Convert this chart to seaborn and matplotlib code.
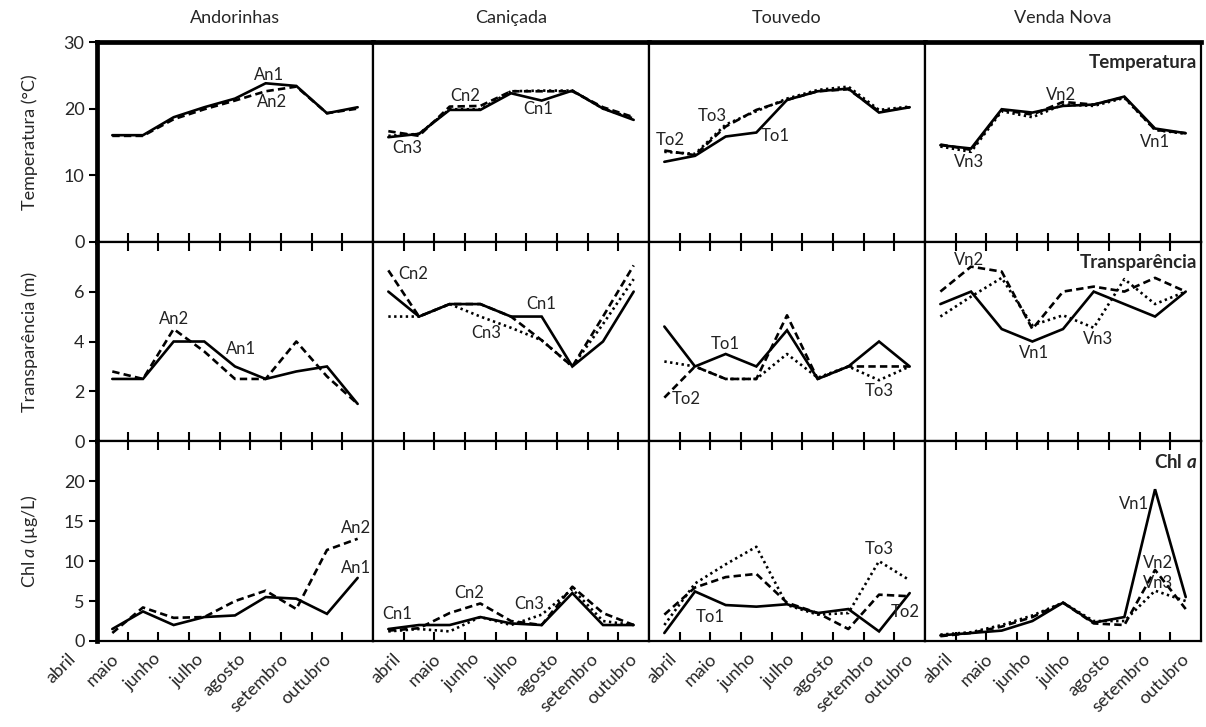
import numpy as np
import pandas as pd
import matplotlib
matplotlib.use("Agg")
import matplotlib.pyplot as plt
import seaborn as sns

sns.set_theme(style="white")
plt.rcParams["font.family"] = ["Lato", "DejaVu Sans"]
plt.rcParams["mathtext.fontset"] = "custom"
plt.rcParams["mathtext.rm"] = "Lato"
plt.rcParams["mathtext.it"] = "Lato:italic"
plt.rcParams["mathtext.bf"] = "Lato:bold"
plt.rcParams["mathtext.bfit"] = "Lato:bold:italic"

# ---- data: 9 sampling campaigns per reservoir, April to October ----
months = ["abril", "maio", "junho", "julho", "agosto", "setembro", "outubro"]
reservoirs = ["Andorinhas", "Caniçada", "Touvedo", "Venda Nova"]
n_samples = 9

# Temperature (°C)
temp_An1 = [16.0, 16.0, 18.7, 20.2, 21.5, 23.8, 23.4, 19.3, 20.2]
temp_An2 = [15.9, 15.9, 18.4, 19.9, 21.2, 22.6, 23.3, 19.3, 20.0]
temp_Cn1 = [15.7, 16.2, 19.8, 19.8, 22.3, 21.2, 22.7, 20.0, 18.3]
temp_Cn2 = [16.6, 15.9, 20.3, 20.4, 22.6, 22.6, 22.6, 20.2, 18.7]
temp_Cn3 = [15.9, 16.2, 19.9, 19.9, 22.6, 22.7, 22.7, 20.0, 18.5]
temp_To1 = [12.0, 12.9, 15.8, 16.4, 21.3, 22.6, 23.0, 19.4, 20.2]
temp_To2 = [13.7, 13.0, 17.3, 19.8, 21.3, 22.6, 22.9, 19.6, 20.2]
temp_To3 = [13.5, 13.2, 17.6, 19.6, 21.5, 22.8, 23.3, 19.8, 20.3]
temp_Vn1 = [14.5, 14.0, 19.9, 19.4, 20.4, 20.6, 21.8, 17.0, 16.3]
temp_Vn2 = [14.6, 13.8, 19.8, 19.1, 21.0, 20.6, 21.7, 16.8, 16.3]
temp_Vn3 = [14.3, 13.5, 19.6, 18.7, 20.6, 20.4, 21.6, 16.8, 16.2]

# Transparency (m)
transp_An1 = [2.5, 2.5, 4.0, 4.0, 3.0, 2.5, 2.8, 3.0, 1.5]
transp_An2 = [2.8, 2.5, 4.5, 3.6, 2.5, 2.5, 4.0, 2.6, 1.5]
transp_Cn1 = [6.0, 5.0, 5.5, 5.5, 5.0, 5.0, 3.0, 4.0, 6.0]
transp_Cn2 = [6.85, 5.0, 5.5, 5.5, 5.0, 4.05, 3.0, 5.0, 7.05]
transp_Cn3 = [5.0, 5.0, 5.5, 5.0, 4.55, 4.05, 3.0, 4.7, 6.5]
transp_To1 = [4.6, 3.0, 3.5, 3.0, 4.45, 2.5, 3.0, 4.0, 3.0]
transp_To2 = [1.75, 3.0, 2.5, 2.5, 5.05, 2.5, 3.0, 3.0, 3.0]
transp_To3 = [3.2, 3.0, 2.5, 2.5, 3.5, 2.55, 3.0, 2.45, 3.0]
transp_Vn1 = [5.5, 6.0, 4.5, 4.0, 4.5, 6.0, 5.5, 5.0, 6.0]
transp_Vn2 = [6.0, 7.0, 6.8, 4.5, 6.0, 6.2, 6.0, 6.55, 6.0]
transp_Vn3 = [5.0, 5.8, 6.55, 4.65, 5.05, 4.55, 6.5, 5.5, 6.0]

# Chlorophyll a (µg/L)
chl_An1 = [1.5, 3.7, 2.0, 3.0, 3.2, 5.5, 5.3, 3.4, 7.9]
chl_An2 = [1.0, 4.2, 2.9, 3.0, 5.0, 6.3, 4.0, 11.4, 12.8]
chl_Cn1 = [1.5, 2.0, 2.0, 3.0, 2.2, 2.0, 6.0, 2.0, 2.0]
chl_Cn2 = [1.3, 1.6, 3.5, 4.7, 2.5, 2.0, 6.8, 3.5, 2.0]
chl_Cn3 = [1.2, 1.5, 1.2, 3.0, 2.0, 3.3, 6.5, 2.5, 2.0]
chl_To1 = [1.0, 6.2, 4.5, 4.3, 4.6, 3.5, 4.0, 1.2, 6.0]
chl_To2 = [3.3, 6.7, 8.0, 8.4, 4.8, 3.5, 1.5, 5.8, 5.6]
chl_To3 = [2.0, 7.2, 9.6, 11.8, 4.5, 3.3, 3.5, 10.0, 7.6]
chl_Vn1 = [0.7, 1.0, 1.3, 2.5, 4.8, 2.3, 3.0, 19.0, 5.5]
chl_Vn2 = [0.6, 1.0, 1.8, 3.0, 4.8, 2.2, 2.0, 8.9, 4.0]
chl_Vn3 = [0.8, 1.1, 2.0, 3.2, 4.8, 2.5, 2.5, 6.3, 5.0]

variables = [
    dict(name="Temperatura", ylabel="Temperatura (°C)", ylim=(0, 30), yticks=[0, 10, 20, 30],
         series=[[("An1", temp_An1), ("An2", temp_An2)],
                 [("Cn1", temp_Cn1), ("Cn2", temp_Cn2), ("Cn3", temp_Cn3)],
                 [("To1", temp_To1), ("To2", temp_To2), ("To3", temp_To3)],
                 [("Vn1", temp_Vn1), ("Vn2", temp_Vn2), ("Vn3", temp_Vn3)]]),
    dict(name="Transparência", ylabel="Transparência (m)", ylim=(0, 8), yticks=[0, 2, 4, 6],
         series=[[("An1", transp_An1), ("An2", transp_An2)],
                 [("Cn1", transp_Cn1), ("Cn2", transp_Cn2), ("Cn3", transp_Cn3)],
                 [("To1", transp_To1), ("To2", transp_To2), ("To3", transp_To3)],
                 [("Vn1", transp_Vn1), ("Vn2", transp_Vn2), ("Vn3", transp_Vn3)]]),
    dict(name=r"Chl $\mathbfit{a}$", ylabel=r"Chl $\mathit{a}$ (µg/L)", ylim=(0, 25),
         yticks=[0, 5, 10, 15, 20],
         series=[[("An1", chl_An1), ("An2", chl_An2)],
                 [("Cn1", chl_Cn1), ("Cn2", chl_Cn2), ("Cn3", chl_Cn3)],
                 [("To1", chl_To1), ("To2", chl_To2), ("To3", chl_To3)],
                 [("Vn1", chl_Vn1), ("Vn2", chl_Vn2), ("Vn3", chl_Vn3)]]),
]

# site labels written next to the lines: (sample position, value)
site_labels = [
    [{"An1": (6.1, 25.0), "An2": (6.2, 21.0)},
     {"Cn1": (5.9, 20.0), "Cn2": (3.5, 21.9), "Cn3": (1.6, 14.1)},
     {"To1": (4.6, 15.9), "To2": (1.2, 15.3), "To3": (2.55, 18.9)},
     {"Vn1": (8.0, 15.0), "Vn2": (4.95, 22.0), "Vn3": (1.95, 11.9)}],
    [{"An1": (5.2, 3.7), "An2": (3.0, 4.9)},
     {"Cn1": (6.0, 5.5), "Cn2": (1.8, 6.7), "Cn3": (4.2, 4.35)},
     {"To1": (3.0, 3.9), "To2": (1.7, 1.7), "To3": (8.0, 2.0)},
     {"Vn1": (4.05, 3.55), "Vn2": (1.95, 7.25), "Vn3": (6.15, 4.1)}],
    [{"An1": (8.95, 9.1), "An2": (8.95, 14.1)},
     {"Cn1": (1.3, 3.4), "Cn2": (3.65, 6.0), "Cn3": (5.6, 4.6)},
     {"To1": (2.5, 3.0), "To2": (8.85, 3.6), "To3": (8.0, 11.5)},
     {"Vn1": (7.3, 17.1), "Vn2": (8.1, 9.8), "Vn3": (8.1, 7.3)}],
]

line_styles = {
    "1": dict(linestyle="-"),
    "2": dict(linestyle=(0, (2.8, 1.6))),
    "3": dict(linestyle=(0, (0.9, 1.3))),
}

fig = plt.figure(figsize=(12.06, 7.27), dpi=100)
gs = fig.add_gridspec(3, 4, left=0.0804, right=0.9959, top=0.9422, bottom=0.1183,
                      wspace=0, hspace=0)

x = np.arange(1, n_samples + 1)
thin, thick = 1.6, 3.4

# month label anchors along each bottom axis (the first panel's run sits further left)
month_anchor = [np.linspace(-0.45, 7.87, len(months))] + \
               [0.5 + n_samples * (np.arange(len(months)) + 0.5) / len(months)] * 3

for r, var in enumerate(variables):
    for c, res in enumerate(reservoirs):
        ax = fig.add_subplot(gs[r, c])
        for code, vals in var["series"][c]:
            df = pd.DataFrame({"amostra": x, "valor": vals})
            sns.lineplot(data=df, x="amostra", y="valor", ax=ax, color="black",
                         lw=1.9, solid_joinstyle="miter", dash_capstyle="butt",
                         **line_styles[code[-1]])
            lx, ly = site_labels[r][c][code]
            ax.text(lx, ly, code, fontsize=12, color="#222222",
                    ha="center", va="center")

        ax.set_xlim(0.5, n_samples + 0.5)
        ax.set_ylim(*var["ylim"])
        ax.set_xlabel("")
        ax.set_ylabel("")
        ax.set_facecolor("white")

        # category boundary ticks along the panel edges
        ax.set_xticks(np.arange(1.5, n_samples, 1.0))
        ax.tick_params(axis="x", which="major", direction="in", length=6.5, width=1.5,
                       bottom=True, top=(r > 0), labelbottom=False, color="black")

        if r == 2:
            for mx, m in zip(month_anchor[c], months):
                ax.annotate(m, xy=(mx, 0), xycoords=("data", "axes fraction"),
                            xytext=(0, -7), textcoords="offset points",
                            rotation=45, ha="right", va="top",
                            rotation_mode="anchor", fontsize=13, annotation_clip=False)

        ax.set_yticks(var["yticks"])
        if c == 0:
            ax.tick_params(axis="y", direction="out", length=6, width=1.5, left=True,
                           labelsize=13, pad=3, color="black")
        else:
            ax.tick_params(axis="y", left=False, labelleft=False)

        for side, sp in ax.spines.items():
            sp.set_visible(True)
            sp.set_color("black")
            sp.set_linewidth(thin)
        if r == 0:
            ax.spines["top"].set_linewidth(thick)
        if c == 0:
            ax.spines["left"].set_linewidth(thick)

        if c == 3:
            ax.text(0.985, 0.895, var["name"], transform=ax.transAxes, ha="right",
                    va="center", fontsize=13.5, fontweight="bold")
        if r == 0:
            ax.text(0.5, 1.0 + 24 / 200, res, transform=ax.transAxes, ha="center",
                    va="center", fontsize=13)
        if c == 0:
            ax.text(-0.245, 0.5, var["ylabel"], transform=ax.transAxes, rotation=90,
                    ha="center", va="center", fontsize=13)

fig.savefig("out.png", dpi=100, facecolor="white")
